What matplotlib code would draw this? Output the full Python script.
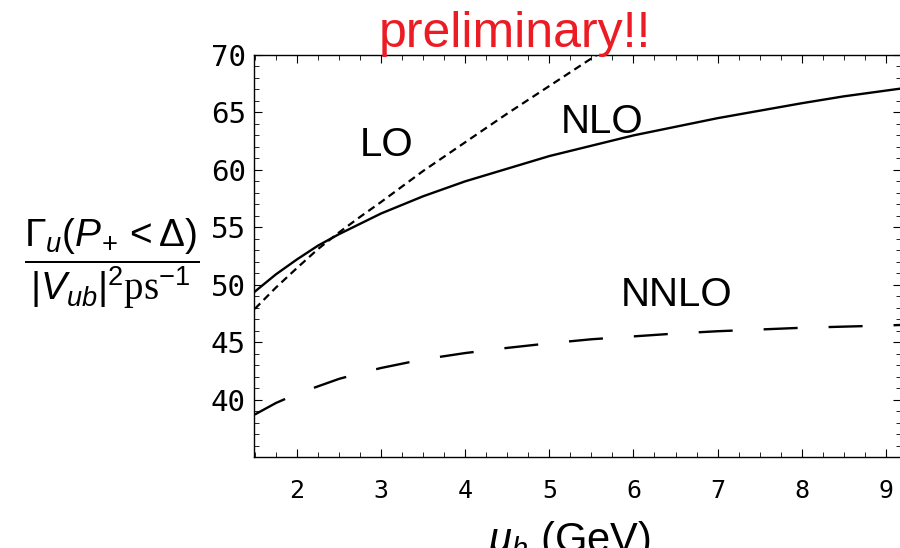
import matplotlib
matplotlib.use("Agg")
import matplotlib.pyplot as plt
from matplotlib.ticker import MultipleLocator

# hard scale mu_h (GeV) and the rate in units of |V_ub|^2 ps^-1
mu = [1.5, 1.75, 2.0, 2.25, 2.5, 2.75, 3.0, 3.5, 4.0, 4.5, 5.0,
      5.5, 6.0, 6.5, 7.0, 7.5, 8.0, 8.5, 9.0, 9.2]
lo = [47.9, 49.75, 51.45, 53.1, 54.55, 55.9, 57.2, 59.9, 62.4, 64.9,
      67.3, 69.7, 72.0]
nlo = [49.4, 50.9, 52.2, 53.4, 54.4, 55.3, 56.2, 57.7, 59.0, 60.1,
       61.2, 62.1, 63.0, 63.75, 64.5, 65.15, 65.8, 66.4, 66.9, 67.1]
nnlo = [38.7, 39.7, 40.5, 41.15, 41.8, 42.3, 42.75, 43.5, 44.05, 44.5,
        44.9, 45.25, 45.5, 45.75, 45.95, 46.1, 46.25, 46.35, 46.45, 46.5]

xticks = [2, 3, 4, 5, 6, 7, 8, 9]
yticks = [40, 45, 50, 55, 60, 65, 70]

plt.rcParams["font.family"] = "Liberation Sans"
plt.rcParams["mathtext.fontset"] = "custom"
plt.rcParams["mathtext.rm"] = "Liberation Sans"
plt.rcParams["mathtext.it"] = "Liberation Sans:italic"
plt.rcParams["mathtext.sf"] = "Liberation Serif"
plt.rcParams["lines.scale_dashes"] = False

fig = plt.figure(figsize=(9, 5.48), dpi=100)
ax = fig.add_axes([254 / 900, 91 / 548, 647 / 900, 402 / 548])

ax.plot(mu[:len(lo)], lo, color="black", lw=1.6, dashes=(5.5, 3.5))
ax.plot(mu, nlo, color="black", lw=1.7)
ax.plot(mu, nnlo, color="black", lw=1.7, dashes=(24.5, 22.3))

ax.set_xlim(1.49, 9.18)
ax.set_ylim(35, 70)
ax.set_xticks(xticks)
ax.set_yticks(yticks)
ax.xaxis.set_minor_locator(MultipleLocator(0.25))
ax.yaxis.set_minor_locator(MultipleLocator(1))

ax.tick_params(which="both", direction="in", top=True, right=True)
ax.tick_params(which="major", length=6, width=0.8)
ax.tick_params(which="minor", length=3.5, width=0.6)
ax.tick_params(axis="x", pad=16, labelsize=18)
ax.tick_params(axis="y", pad=6, labelsize=21)
for lbl in ax.get_xticklabels() + ax.get_yticklabels():
    lbl.set_fontfamily("DejaVu Sans Mono")
for sp in ax.spines.values():
    sp.set_linewidth(1.0)

# curve labels
ax.text(3.07, 62.2, "LO", fontsize=29, ha="center", va="center")
ax.text(5.63, 64.15, "NLO", fontsize=29, ha="center", va="center")
ax.text(6.51, 49.1, "NNLO", fontsize=29, ha="center", va="center")

ax.set_xlabel(r"$\mu_h$ (GeV)", fontsize=30)
ax.xaxis.set_label_coords(0.488, -0.153)

ax.set_ylabel(r"$\dfrac{\Gamma_u(P_{\!+}<\Delta)}{|V_{ub}|^2\mathsf{ps}^{-1}}$",
              fontsize=28, rotation=0, ha="center", va="center")
ax.yaxis.set_label_coords(-0.2196, 0.48)

fig.text(0.572, 0.914, "preliminary!!", color="#ec1c24", fontsize=36,
         ha="center", va="baseline")

fig.savefig("out.png", dpi=100)
